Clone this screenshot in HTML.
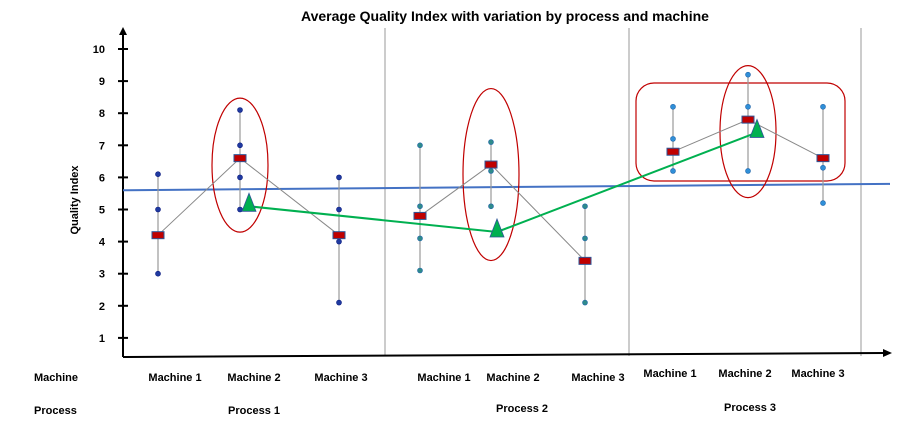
<!DOCTYPE html>
<html><head><meta charset="utf-8"><style>
body{margin:0;background:#fff;}
svg{display:block;font-family:"Liberation Sans",sans-serif;}
</style></head><body>
<svg id="chart" width="903" height="424" viewBox="0 0 903 424">
<text x="505" y="21" text-anchor="middle" font-size="14" font-weight="bold">Average Quality Index  with  variation by process and machine</text>
<text transform="translate(78,200) rotate(-90)" text-anchor="middle" font-size="11" font-weight="bold">Quality Index</text>
<g id="grid"></g>
<g id="axes"></g>
<g id="marks"></g>
<g id="labels"></g>
</svg>
<script>
const yTicks=[1,2,3,4,5,6,7,8,9,10];
const processes=["Process 1","Process 2","Process 3"];
const machines=["Machine 1","Machine 2","Machine 3","Machine 1","Machine 2","Machine 3","Machine 1","Machine 2","Machine 3"];
const obsValues=[[6.1,5.0,3.0],[8.1,7.0,6.0,5.0],[6.0,5.0,4.0,2.1],[7.0,5.1,4.1,3.1],[7.1,6.2,5.1],[5.1,4.1,2.1],[8.2,7.2,6.2],[9.2,8.2,6.2],[8.2,6.3,5.2]];
const meanValues=[4.2,6.6,4.2,4.8,6.4,3.4,6.8,7.8,6.6];
const processMeans=[5.1,4.3,7.4];
const grandMean=[5.6,5.8];

const NS="http://www.w3.org/2000/svg";
const X0=123,Y0=357;
const xPos=[158,240,339,420,491,585,673,748,823];
const labelX=[175,254,341,444,513,598,670,745,818];
const procX=[249,497,757];
function y(v){return 49+(10-v)*32.1;}
function el(tag,attrs,parent){const e=document.createElementNS(NS,tag);for(const k in attrs)e.setAttribute(k,attrs[k]);parent.appendChild(e);return e;}
const grid=document.getElementById('grid'),axes=document.getElementById('axes'),marks=document.getElementById('marks'),labels=document.getElementById('labels');
[385,629,861].forEach(x=>{const l=el('line',{x1:x,y1:28,x2:x,y2:356,stroke:'#999','stroke-width':1},grid);

});
el('line',{x1:X0,y1:Y0,x2:X0,y2:34,stroke:'#000','stroke-width':2},axes);
el('polygon',{points:`${X0-4},35 ${X0+4},35 ${X0},27`,fill:'#000'},axes);
el('line',{x1:X0,y1:Y0,x2:884,y2:353,stroke:'#000','stroke-width':2},axes);
el('polygon',{points:`883,349 883,357 892,353`,fill:'#000'},axes);
yTicks.forEach(v=>{el('line',{x1:X0-5,y1:y(v),x2:X0+5,y2:y(v),stroke:'#000','stroke-width':2},axes);
const t=el('text',{x:105,y:y(v)+4,'text-anchor':'end','font-size':11,'font-weight':'bold'},axes);t.textContent=v;

});
const gl=el('line',{x1:X0,y1:y(grandMean[0]),x2:890,y2:y(grandMean[1]),stroke:'#4472c4','stroke-width':2},marks);


const ellRy=[67,86,66],ellOff=[7,10,12];
[1,4,7].forEach((i,k)=>{
const e=el('ellipse',{cx:xPos[i],cy:y(meanValues[i])+ellOff[k],rx:28,ry:ellRy[k],fill:'none',stroke:'#c00000','stroke-width':1.2},marks);

});
const rr=el('rect',{x:636,y:83,width:209,height:98,rx:18,fill:'none',stroke:'#c00000','stroke-width':1.2},marks);


obsValues.forEach((vals,i)=>{const x=xPos[i];
const r=el('line',{x1:x,y1:y(Math.max(...vals)),x2:x,y2:y(Math.min(...vals)),stroke:'#999','stroke-width':1.2},marks);


vals.forEach(v=>{const c=el('circle',{cx:x,cy:y(v),r:2.5,fill:i<3?'#1f3aa0':(i<6?'#2e8b8b':'#2f8fd8'),stroke:i<3?'#0a1a80':'#2266aa','stroke-width':0.6},marks);

});});
for(let p=0;p<3;p++){const pts=[0,1,2].map(j=>{const i=p*3+j;return xPos[i]+','+y(meanValues[i]);}).join(' ');
const pl=el('polyline',{points:pts,fill:'none',stroke:'#888','stroke-width':1},marks);

}
const gp=el('polyline',{points:processMeans.map((v,k)=>procX[k]+','+y(v)).join(' '),fill:'none',stroke:'#00b050','stroke-width':2},marks);


processMeans.forEach((v,k)=>{const x=procX[k],yy=y(v)-4;
const t=el('polygon',{points:`${x-7},${yy+9} ${x+7},${yy+9} ${x},${yy-9}`,fill:'#00b050',stroke:'#2e5597','stroke-width':0.8},marks);

});
meanValues.forEach((v,i)=>{const r=el('rect',{x:xPos[i]-6,y:y(v)-3.5,width:12,height:7,fill:'#c00000',stroke:'#2e5597','stroke-width':1},marks);

});
const my=[381,381,381,381,381,381,377,377,377];
machines.forEach((m,i)=>{const t=el('text',{x:labelX[i],y:my[i],'text-anchor':'middle','font-size':11,'font-weight':'bold'},labels);t.textContent=m;

});
const px=[254,522,750],py=[414,412,411];
processes.forEach((p,k)=>{const t=el('text',{x:px[k],y:py[k],'text-anchor':'middle','font-size':11,'font-weight':'bold'},labels);t.textContent=p;

});
const a=el('text',{x:34,y:381,'font-size':11,'font-weight':'bold'},labels);a.textContent='Machine';


const b=el('text',{x:34,y:414,'font-size':11,'font-weight':'bold'},labels);b.textContent='Process';


</script>
</body></html>
